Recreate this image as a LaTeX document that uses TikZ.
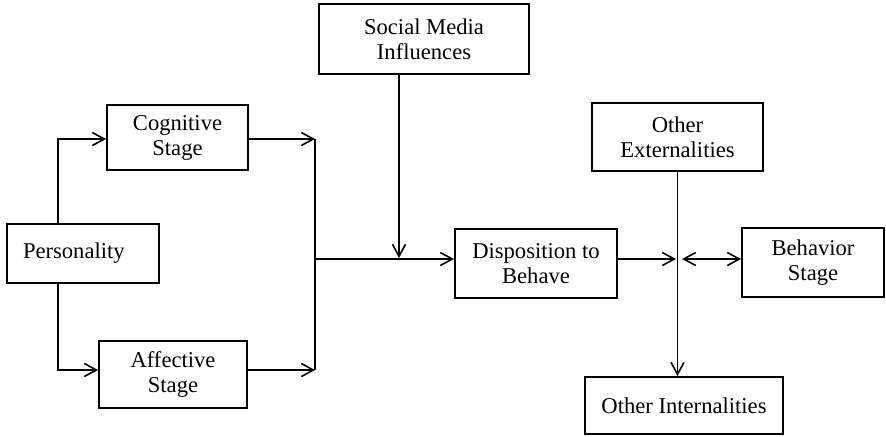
\documentclass[tikz,border=0pt]{standalone}
\usepackage{fontspec}
\setmainfont{Liberation Serif}
\usetikzlibrary{arrows.meta}
\begin{document}
\begin{tikzpicture}[x=0.5pt,y=-0.5pt,
  stagebox/.style={draw, line width=1pt, inner sep=0pt, align=center,
    font=\fontsize{11.3}{12.5}\selectfont},
  link/.style={line width=0.8pt},
  arr/.style={link, -{Straight Barb[length=6pt,width=6.5pt]}},
  darr/.style={link, {Straight Barb[length=6pt,width=6.5pt]}-{Straight Barb[length=6pt,width=6.5pt]}}]
\useasboundingbox (0,0) rectangle (886,436);

% stage boxes
\node[stagebox, minimum width=76pt, minimum height=29.5pt, text width=60pt, align=flush left]
  (pers) at (83,253.5) {Personality};
\node[stagebox, minimum width=70.5pt, minimum height=32.5pt] (cog) at (177.5,137.5) {Cognitive\\Stage};
\node[stagebox, minimum width=74pt, minimum height=33.5pt] (aff) at (173,374.5) {Affective\\Stage};
\node[stagebox, minimum width=105pt, minimum height=35pt] (smi) at (424,39) {Social Media\\Influences};
\node[stagebox, minimum width=81pt, minimum height=34.5pt] (disp) at (536,263.5) {Disposition to\\Behave};
\node[stagebox, minimum width=85.5pt, minimum height=34pt] (ext) at (677.5,137) {Other\\Externalities};
\node[stagebox, minimum width=71pt, minimum height=34.5pt] (beh) at (813,262.5) {Behavior\\Stage};
\node[stagebox, minimum width=99pt, minimum height=28.5pt] (intl) at (684,405.5) {Other Internalities};

% junction points
\coordinate (bartop) at (315,139);
\coordinate (barbot) at (315,370);
\coordinate (barmid) at (315,259);
\coordinate (jR) at (678,259);

% personality branches
\draw[arr] ([xshift=26pt]pers.north west) |- ([yshift=-0.75pt]cog.west);
\draw[arr] ([xshift=26pt]pers.south west) |- ([yshift=2.25pt]aff.west);

% merge bar
\draw[link] (bartop) -- (barbot);
\draw[arr] ([yshift=-0.75pt]cog.east) -- ([yshift=-0.75pt]cog.east -| bartop);
\draw[arr] ([yshift=2.25pt]aff.east) -- ([yshift=2.25pt]aff.east -| barbot);
\draw[arr] (barmid) -- (barmid -| disp.west);

% social media influence
\draw[arr] ([xshift=-12.5pt]smi.south) -- ([xshift=-12.5pt,yshift=0.5pt]smi.south |- barmid);

% right-hand junction
\draw[arr] (ext.south) -- (ext.south |- intl.north);
\draw[arr, shorten >=1pt] (disp.east |- jR) -- (jR);
\draw[darr] ([xshift=2pt]jR) -- (jR -| beh.west);
\end{tikzpicture}
\end{document}
